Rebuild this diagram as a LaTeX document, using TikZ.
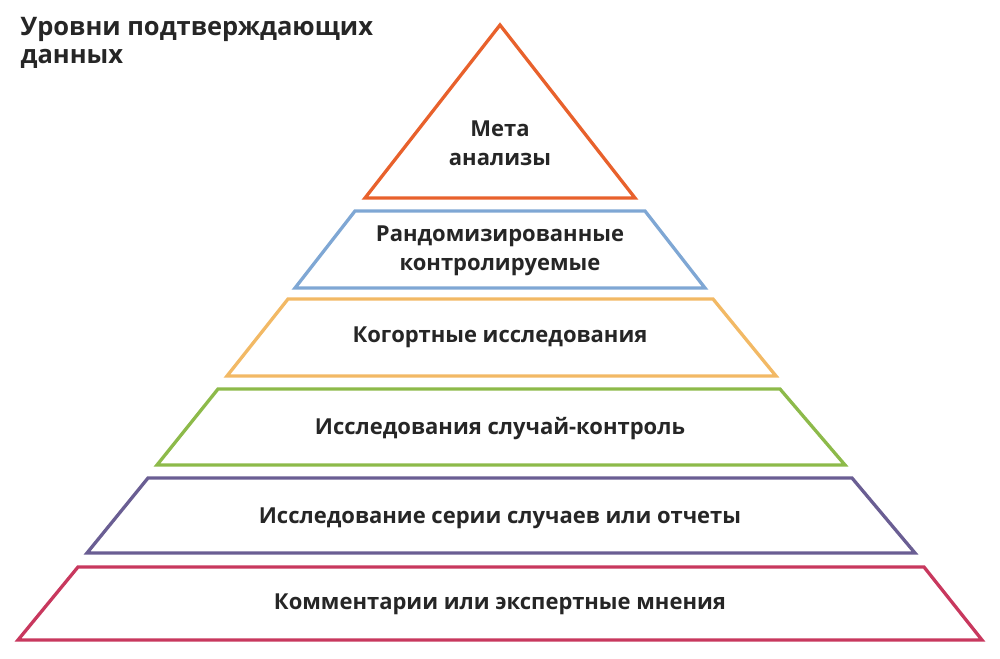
\documentclass[tikz,border=0pt]{standalone}
\usepackage{fontspec}
\setmainfont{Open Sans}
\begin{document}
\begin{tikzpicture}[x=1pt,y=-1pt,line width=3.3pt,line join=miter,
  lbl/.style={font=\fontsize{22}{29}\selectfont\bfseries,text=black!85,align=center}]
\definecolor{cOr}{HTML}{E8612C}\definecolor{cBl}{HTML}{7FA7D4}
\definecolor{cYe}{HTML}{F2B965}\definecolor{cGr}{HTML}{8DBA4A}
\definecolor{cPu}{HTML}{6A5E93}\definecolor{cPk}{HTML}{C8385E}
\useasboundingbox (0,0) rectangle (1000,658);
\node[lbl,anchor=north west,align=left,inner sep=0pt,font=\fontsize{25.5}{28}\selectfont\bfseries] (title) at (19,16) {Уровни подтверждающих\\данных};
\draw[cOr] (500,25) -- (635,198) -- (365,198) -- cycle;
\node[lbl] (l0) at (500,143) {Мета\\анализы};
\draw[cBl] (355,211) -- (645,211) -- (705,288) -- (295,288) -- cycle;
\node[lbl] (l1) at (500,251) {Рандомизированные\\контролируемые};
\draw[cYe] (288,299) -- (713,299) -- (776,376) -- (227,376) -- cycle;
\node[lbl] (l2) at (500,337) {Когортные исследования};
\draw[cGr] (218,389) -- (780,389) -- (845,465) -- (157,465) -- cycle;
\node[lbl] (l3) at (500,429) {Исследования случай-контроль};
\draw[cPu] (148,478) -- (852,478) -- (915,553) -- (87,553) -- cycle;
\node[lbl] (l4) at (500,518) {Исследование серии случаев или отчеты};
\draw[cPk] (78,567) -- (924,567) -- (982,640) -- (18,640) -- cycle;
\node[lbl] (l5) at (500,604) {Комментарии или экспертные мнения};
\end{tikzpicture}
\end{document}
